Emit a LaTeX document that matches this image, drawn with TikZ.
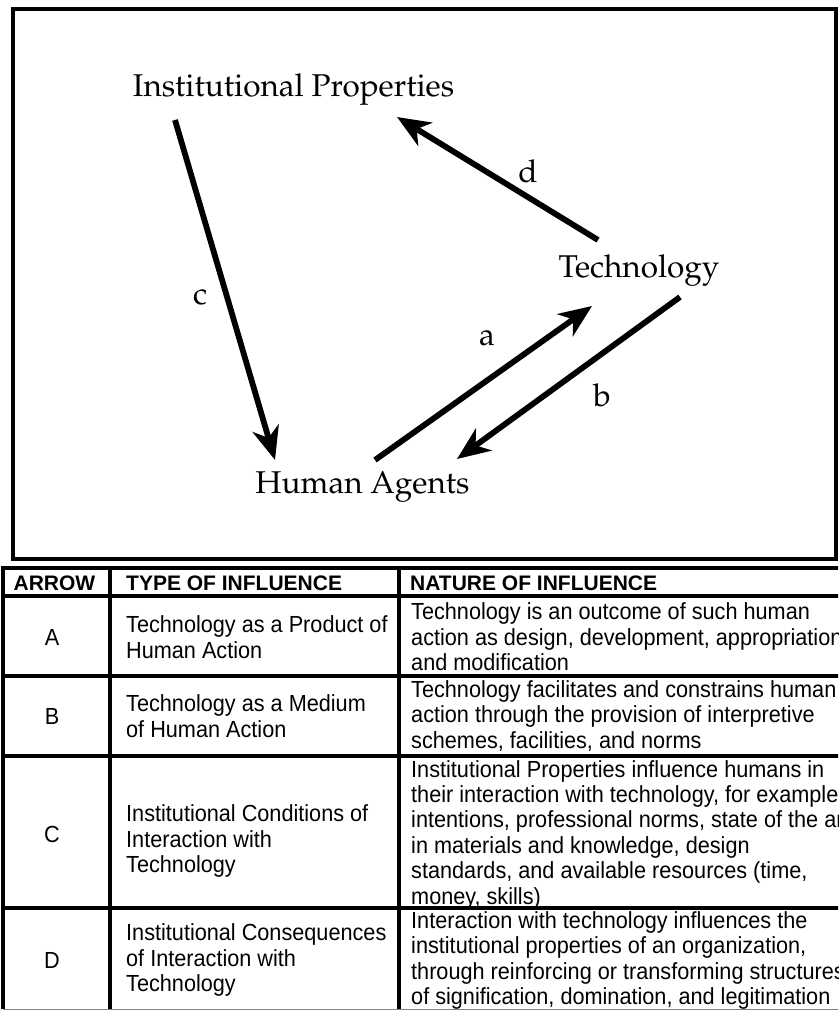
\documentclass[tikz,border=0pt]{standalone}
\usepackage{fontspec}
\usepackage{graphicx}
\usetikzlibrary{arrows.meta}
\newfontfamily\tabfont[FakeStretch=0.93]{Liberation Sans}
\newfontfamily\headfont{Liberation Sans}
\newcommand\palfont{\fontencoding{OT1}\fontfamily{ppl}\selectfont}
\begin{document}
\begin{tikzpicture}[x=1pt,y=-1pt,
  lab/.style={font=\palfont\fontsize{31.5}{38}\selectfont, inner sep=0pt},
  arr/.style={line width=5.8pt, -{Stealth[length=33pt,width=27pt,inset=10pt]}},
  rule/.style={line width=3.5pt},
  hd/.style={font=\headfont\bfseries\fontsize{21}{25}\selectfont, inner sep=0pt, anchor=base west},
  cell/.style={font=\tabfont\fontsize{23.3}{25.4}\selectfont, inner sep=0pt, align=left, anchor=west},
  letter/.style={font=\tabfont\fontsize{23.3}{25.4}\selectfont, inner sep=0pt}
]
\useasboundingbox (0,0) rectangle (838,1011);
\clip (0,0) rectangle (838,1011);
\fill[white] (0,0) rectangle (838,1011);

% upper frame
\draw[line width=4pt] (13,9) rectangle (836,559);

% diagram labels
\node[lab, anchor=base] (ip) at (293.5,97) {Institutional Properties};
\node[lab, anchor=base] (tech) at (639,277) {Technology};
\node[lab, anchor=base] (ha) at (362.5,493) {Human Agents};

\coordinate (cS) at (175,120);
\coordinate (cE) at (275,460);
\coordinate (dS) at (598,240);
\coordinate (dE) at (397,117);
\coordinate (aS) at (375,460);
\coordinate (aE) at (592,306);
\coordinate (bS) at (680,297);
\coordinate (bE) at (457,459);

\draw[arr] (cS) -- (cE);
\draw[arr] (dS) -- (dE);
\draw[arr] (aS) -- (aE);
\draw[arr] (bS) -- (bE);

\node[lab] (lc) at (200,297) {c};
\node[lab] (ld) at (528,171) {d};
\node[lab] (la) at (487,338) {a};
\node[lab] (lb) at (602,395) {b};

% table
\draw[rule] (870,568) -- (3,568) -- (3,1009);
\draw[line width=1.5pt, gray] (3,1009.5) -- (870,1009.5);
\draw[rule] (3,596) -- (870,596);
\draw[rule] (3,676) -- (870,676);
\draw[rule] (3,756) -- (870,756);
\draw[rule] (3,908) -- (870,908);
\draw[rule] (110,568) -- (110,1009);
\draw[rule] (399,568) -- (399,1009);

\node[hd, anchor=base] (h1) at (54.5,590) {ARROW};
\node[hd] (h2) at (126,590) {TYPE OF INFLUENCE};
\node[hd] (h3) at (410,590) {NATURE OF INFLUENCE};

\node[letter] (rA) at (52,637) {A};
\node[letter] (rB) at (52,716) {B};
\node[letter] (rC) at (52,834) {C};
\node[letter] (rD) at (52,960) {D};

\node[cell] (tA) at (126,637) {Technology as a Product of\\Human Action};
\node[cell] (tB) at (126,716) {Technology as a Medium\\of Human Action};
\node[cell] (tC) at (126,841) {Institutional Conditions of\\Interaction with\\Technology};
\node[cell] (tD) at (126,960) {Institutional Consequences\\of Interaction with\\Technology};

\node[cell] (nA) at (411,637) {Technology is an outcome of such human\\action as design, development, appropriation,\\and modification};
\node[cell] (nB) at (411,716) {Technology facilitates and constrains human\\action through the provision of interpretive\\schemes, facilities, and norms};
\node[cell] (nC) at (411,834.5) {Institutional Properties influence humans in\\their interaction with technology, for example,\\intentions, professional norms, state of the art\\in materials and knowledge, design\\standards, and available resources (time,\\money, skills)};
\node[cell] (nD) at (411,960.5) {Interaction with technology influences the\\institutional properties of an organization,\\through reinforcing or transforming structures\\of signification, domination, and legitimation};
\end{tikzpicture}
\end{document}
